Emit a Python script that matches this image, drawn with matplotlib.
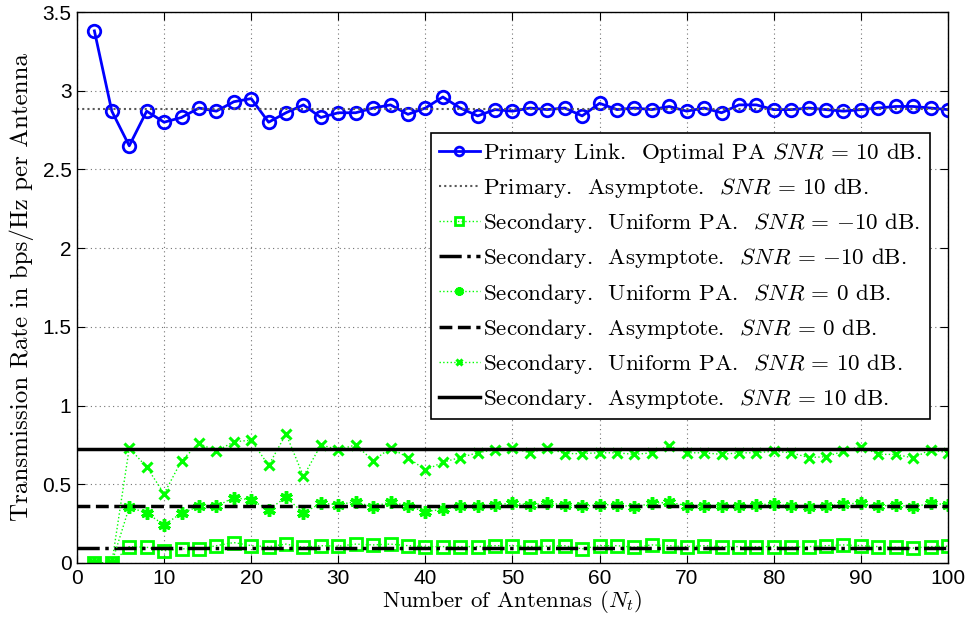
import numpy as np
import matplotlib
matplotlib.use('Agg')
import matplotlib.pyplot as plt

plt.rcParams['mathtext.fontset'] = 'cm'
plt.rcParams['axes.unicode_minus'] = False

# number of antennas
n_t = np.arange(2, 101, 2)

# primary link, optimal PA, SNR = 10 dB
primary = [3.38, 2.87, 2.65, 2.87, 2.80, 2.83, 2.89, 2.87, 2.93, 2.95,
           2.80, 2.86, 2.91, 2.83, 2.86, 2.86, 2.89, 2.91, 2.85, 2.89,
           2.96, 2.89, 2.84, 2.88, 2.87, 2.89, 2.88, 2.89, 2.84, 2.92,
           2.88, 2.89, 2.88, 2.90, 2.87, 2.89, 2.86, 2.91, 2.91, 2.88,
           2.88, 2.89, 2.88, 2.87, 2.88, 2.89, 2.90, 2.90, 2.89, 2.88]
primary_asym = 2.885

# secondary, uniform PA
sec_m10 = [0.0, 0.0, 0.104, 0.10, 0.078, 0.09, 0.09, 0.11, 0.13, 0.11,
           0.104, 0.12, 0.10, 0.11, 0.107, 0.12, 0.115, 0.12, 0.11, 0.104,
           0.104, 0.104, 0.104, 0.11, 0.11, 0.104, 0.107, 0.11, 0.09, 0.11,
           0.11, 0.10, 0.115, 0.11, 0.104, 0.11, 0.104, 0.104, 0.104, 0.104,
           0.10, 0.104, 0.11, 0.115, 0.11, 0.104, 0.10, 0.095, 0.104, 0.107]
sec_0 = [0.0, 0.0, 0.355, 0.317, 0.242, 0.317, 0.359, 0.36, 0.416, 0.40,
         0.338, 0.418, 0.317, 0.38, 0.37, 0.39, 0.355, 0.39, 0.36, 0.327,
         0.34, 0.359, 0.36, 0.37, 0.38, 0.37, 0.38, 0.37, 0.36, 0.37,
         0.37, 0.355, 0.38, 0.385, 0.365, 0.36, 0.36, 0.36, 0.37, 0.375,
         0.36, 0.355, 0.36, 0.375, 0.38, 0.36, 0.37, 0.355, 0.38, 0.37]
sec_10 = [0.0, 0.0, 0.73, 0.61, 0.44, 0.65, 0.76, 0.71, 0.77, 0.78,
          0.62, 0.82, 0.55, 0.75, 0.72, 0.75, 0.65, 0.73, 0.67, 0.59,
          0.64, 0.67, 0.70, 0.72, 0.73, 0.70, 0.73, 0.695, 0.695, 0.70,
          0.70, 0.69, 0.70, 0.745, 0.70, 0.70, 0.69, 0.70, 0.70, 0.71,
          0.70, 0.67, 0.675, 0.71, 0.74, 0.69, 0.69, 0.667, 0.72, 0.70]

# secondary asymptotes
asym_m10 = 0.096
asym_0 = 0.363
asym_10 = 0.725

green = '#00ff00'
cm = 'cmr10'

fig = plt.figure(figsize=(9.77, 6.25), dpi=100)
ax = fig.add_axes([0.0788, 0.0992, 0.8915, 0.8816])

xx = [0, 100]
ax.plot(n_t, primary, color='#0000ff', lw=2, marker='o', ms=9, mfc='none', mew=2,
        label=r'Primary Link.  Optimal PA $SNR\,=\,10$ dB.')
ax.plot(xx, [primary_asym] * 2, color='0.35', lw=1.5, ls=(0, (1, 1.5)),
        label=r'Primary.  Asymptote.  $SNR\,=\,10$ dB.')
ax.plot(n_t, sec_m10, color=green, lw=1, ls=':', marker='s', ms=8, mfc='none', mew=2,
        label=r'Secondary.  Uniform PA.  $SNR\,=\,{-}10$ dB.')
ax.plot(xx, [asym_m10] * 2, color='k', lw=2.5, ls='-.',
        label=r'Secondary.  Asymptote.  $SNR\,=\,{-}10$ dB.')
ax.plot(n_t, sec_0, color=green, lw=1, ls=':', marker=(6, 2, 0), ms=9, mew=2.5,
        label=r'Secondary.  Uniform PA.  $SNR\,=\,0$ dB.')
ax.plot(xx, [asym_0] * 2, color='k', lw=2.5, ls='--',
        label=r'Secondary.  Asymptote.  $SNR\,=\,0$ dB.')
ax.plot(n_t, sec_10, color=green, lw=1, ls=':', marker='x', ms=7, mew=2.2,
        label=r'Secondary.  Uniform PA.  $SNR\,=\,10$ dB.')
ax.plot(xx, [asym_10] * 2, color='k', lw=2.5, ls='-',
        label=r'Secondary.  Asymptote.  $SNR\,=\,10$ dB.')

ax.set_xlim(0, 100)
ax.set_ylim(0, 3.5)
ax.set_xticks(np.arange(0, 101, 10))
ax.set_yticks(np.arange(0, 3.51, 0.5))
ax.set_yticklabels(['0', '0.5', '1', '1.5', '2', '2.5', '3', '3.5'])
ax.tick_params(direction='in', top=True, right=True, labelsize=15, length=6, pad=4)
for lab in ax.get_xticklabels() + ax.get_yticklabels():
    lab.set_fontfamily('Liberation Sans')
ax.grid(True, ls=(0, (1, 3)), color='0.45', lw=0.8)
for s in ax.spines.values():
    s.set_linewidth(1)

ax.set_xlabel('Number of Antennas ($N_t$)', fontfamily=cm, fontsize=16.5, labelpad=0)
ax.set_ylabel('Transmission Rate in bps/Hz per Antenna', fontfamily=cm, fontsize=18, labelpad=6)

leg = ax.legend(loc='upper right', bbox_to_anchor=(0.979, 0.780), prop={'family': cm, 'size': 16.6},
                fancybox=False, edgecolor='k', framealpha=1, handlelength=1.75, markerscale=0.7,
                handletextpad=0.15, labelspacing=0.48, borderpad=0.35, borderaxespad=0)
leg.get_frame().set_linewidth(1.2)

fig.savefig('out.png', dpi=100)
